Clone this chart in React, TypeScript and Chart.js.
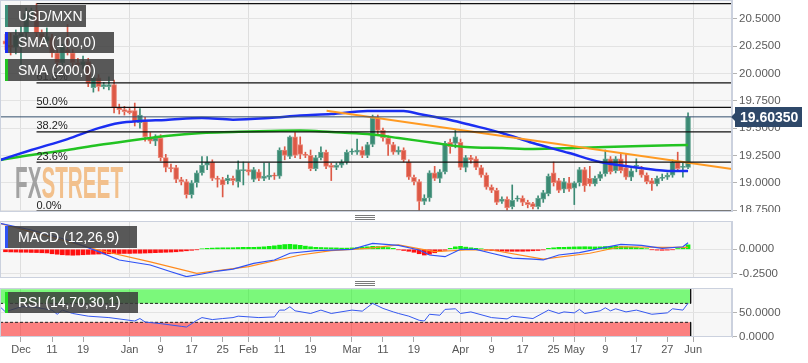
import React, { useEffect, useRef } from 'react';
import { Chart, registerables } from 'chart.js';

Chart.register(...registerables);

const FONT = '"Liberation Sans", Arial, Helvetica, sans-serif';
Chart.defaults.font.family = FONT;

// ---------- x axis (trading-day index, 0 = 3 Dec 2018) ----------
const X_MIN = -4.06;
const X_MAX = 137.5;
const tickIdx = [0, 6, 12, 21, 27, 33, 39, 44, 50, 56, 64, 70, 76, 85, 91, 97, 103, 107, 113, 119, 125, 130];
const tickLabels = ['Dec', '11', '19', 'Jan', '9', '17', '25', 'Feb', '11', '19', 'Mar', '11', '19', 'Apr', '9', '17', '25', 'May', '9', '17', '27', 'Jun'];
const monthIdx = [0, 21, 44, 64, 85, 107, 130];

// ---------- candles (first candle = index -3, 28 Nov 2018) ----------
const FIRST_IDX = -3;
const opens = [20.30, 20.26, 20.24, 20.34, 20.37, 20.54, 20.58, 20.37, 20.30, 20.33, 20.19, 20.10, 20.22, 20.19, 20.10, 20.08, 20.11, 19.87, 19.96, 19.88, 19.88, 19.90, 19.69, 19.67, 19.66, 19.66, 19.55, 19.56, 19.41, 19.38, 19.41, 19.23, 19.14, 19.14, 19.03, 19.01, 18.89, 19.00, 19.09, 19.16, 19.19, 19.04, 19.03, 19.02, 19.04, 19.01, 19.11, 19.12, 19.03, 19.10, 19.04, 19.05, 19.07, 19.06, 19.30, 19.24, 19.42, 19.35, 19.26, 19.25, 19.13, 19.23, 19.28, 19.16, 19.14, 19.16, 19.19, 19.28, 19.28, 19.30, 19.25, 19.35, 19.59, 19.48, 19.41, 19.35, 19.28, 19.30, 19.19, 19.05, 19.01, 18.83, 18.86, 19.09, 19.04, 19.10, 19.37, 19.36, 19.37, 19.14, 19.23, 19.22, 19.14, 19.07, 18.96, 18.93, 18.83, 18.85, 18.78, 18.85, 18.86, 18.82, 18.81, 18.78, 18.85, 18.90, 19.09, 19.02, 18.94, 19.00, 18.95, 19.00, 19.12, 19.04, 18.99, 19.04, 19.08, 19.22, 19.11, 19.22, 19.14, 19.05, 19.15, 19.12, 19.07, 19.02, 18.99, 19.04, 19.05, 19.07, 19.19, 19.14, 19.14];
const highs = [20.36, 20.37, 20.40, 20.43, 20.60, 20.60, 20.64, 20.40, 20.42, 20.36, 20.22, 20.27, 20.45, 20.22, 20.14, 20.16, 20.14, 19.99, 19.99, 19.92, 19.97, 19.94, 19.72, 19.70, 19.68, 19.73, 19.68, 19.60, 19.46, 19.44, 19.44, 19.26, 19.17, 19.16, 19.05, 19.03, 19.02, 19.11, 19.24, 19.24, 19.21, 19.06, 19.05, 19.07, 19.06, 19.20, 19.19, 19.18, 19.14, 19.12, 19.18, 19.18, 19.09, 19.32, 19.33, 19.43, 19.46, 19.42, 19.28, 19.30, 19.25, 19.33, 19.30, 19.18, 19.18, 19.21, 19.30, 19.31, 19.40, 19.33, 19.37, 19.62, 19.62, 19.50, 19.43, 19.37, 19.33, 19.32, 19.21, 19.07, 19.03, 18.89, 19.11, 19.15, 19.12, 19.38, 19.40, 19.48, 19.40, 19.25, 19.25, 19.24, 19.16, 19.09, 18.98, 18.95, 18.87, 18.87, 18.98, 18.88, 18.88, 18.84, 18.82, 18.88, 18.93, 19.08, 19.19, 19.04, 19.04, 19.05, 19.01, 19.14, 19.14, 19.15, 19.06, 19.10, 19.30, 19.24, 19.24, 19.26, 19.26, 19.13, 19.22, 19.15, 19.09, 19.04, 19.06, 19.08, 19.09, 19.21, 19.28, 19.18, 19.64];
const lows = [20.22, 20.17, 20.18, 20.06, 20.30, 20.50, 20.30, 20.25, 20.27, 20.15, 20.06, 20.07, 20.17, 20.05, 20.02, 20.04, 19.88, 19.83, 19.84, 19.86, 19.85, 19.64, 19.63, 19.62, 19.63, 19.52, 19.50, 19.38, 19.36, 19.34, 19.20, 19.10, 19.10, 19.00, 18.98, 18.86, 18.86, 18.96, 19.07, 19.12, 19.02, 18.96, 18.87, 18.99, 18.98, 18.96, 18.98, 19.07, 19.01, 19.02, 19.02, 19.03, 19.03, 19.04, 19.21, 19.22, 19.23, 19.22, 19.23, 19.11, 19.11, 19.21, 19.13, 19.02, 19.12, 19.14, 19.17, 19.26, 19.26, 19.23, 19.23, 19.33, 19.45, 19.38, 19.25, 19.26, 19.26, 19.19, 19.03, 18.98, 18.75, 18.80, 18.83, 19.02, 19.00, 19.08, 19.27, 19.32, 19.12, 19.10, 19.18, 19.12, 19.05, 18.94, 18.91, 18.80, 18.81, 18.75, 18.76, 18.83, 18.79, 18.77, 18.76, 18.76, 18.82, 18.88, 18.97, 18.91, 18.91, 18.92, 18.80, 18.97, 18.92, 18.97, 18.97, 19.02, 19.06, 19.08, 19.09, 19.09, 19.03, 19.02, 19.10, 19.05, 18.99, 18.93, 18.97, 19.02, 19.03, 19.05, 19.11, 19.05, 19.13];
const closes = [20.27, 20.24, 20.35, 20.37, 20.55, 20.58, 20.37, 20.33, 20.34, 20.19, 20.10, 20.24, 20.19, 20.10, 20.08, 20.11, 19.91, 19.96, 19.88, 19.90, 19.90, 19.69, 19.67, 19.65, 19.64, 19.56, 19.62, 19.42, 19.38, 19.41, 19.23, 19.14, 19.13, 19.03, 19.01, 18.89, 19.00, 19.09, 19.16, 19.19, 19.04, 19.03, 18.98, 19.04, 19.02, 19.12, 19.12, 19.10, 19.12, 19.04, 19.06, 19.07, 19.06, 19.30, 19.25, 19.42, 19.25, 19.26, 19.25, 19.13, 19.23, 19.28, 19.15, 19.14, 19.16, 19.19, 19.28, 19.29, 19.30, 19.25, 19.35, 19.59, 19.48, 19.41, 19.35, 19.28, 19.30, 19.21, 19.05, 19.01, 18.83, 18.86, 19.09, 19.04, 19.10, 19.36, 19.33, 19.42, 19.14, 19.23, 19.21, 19.14, 19.07, 18.96, 18.93, 18.82, 18.85, 18.77, 18.84, 18.86, 18.82, 18.80, 18.78, 18.86, 18.91, 19.06, 19.00, 18.93, 19.01, 18.94, 19.00, 19.12, 18.97, 18.99, 19.04, 19.08, 19.22, 19.10, 19.22, 19.11, 19.05, 19.11, 19.16, 19.07, 19.01, 18.99, 19.04, 19.05, 19.07, 19.19, 19.13, 19.15, 19.6035];

// ---------- moving averages (read at sample days) ----------
const sma100Idx = [-4.06, 2, 9, 15, 19, 23, 28, 35, 41, 48, 54, 60, 67, 74, 77, 83, 87, 93, 99, 106, 112, 120, 126, 129];
const sma100Val = [19.208, 19.30, 19.40, 19.50, 19.547, 19.565, 19.575, 19.593, 19.578, 19.593, 19.616, 19.630, 19.657, 19.657, 19.630, 19.575, 19.529, 19.456, 19.364, 19.272, 19.19, 19.135, 19.107, 19.107];
const sma200Idx = [-4.06, 2, 9, 15, 22, 28, 35, 41, 48, 54, 60, 67, 73, 80, 86, 93, 99, 107, 113, 120, 129];
const sma200Val = [19.208, 19.254, 19.30, 19.346, 19.391, 19.428, 19.456, 19.465, 19.474, 19.478, 19.465, 19.446, 19.41, 19.364, 19.327, 19.318, 19.309, 19.318, 19.327, 19.336, 19.346];

// ---------- trend line ----------
const trendIdx = [59.1, 137.5];
const trendVal = [19.66, 19.126];

// ---------- Fibonacci retracement ----------
const FIB_LOW = 18.74;
const FIB_HIGH = 20.64;
const FIB_START = 3;
const fibLevels = [0, 0.236, 0.382, 0.5, 0.618, 1];
const fibLabels = ['0.0%', '23.6%', '38.2%', '50.0%', '61.8%', '100.0%'];

// ---------- MACD (12,26,9) ----------
const macdIdx = [-4.06, 2, 9, 15, 19, 25, 29, 32, 35, 38, 41, 45, 49, 52, 57, 64, 68, 73, 77, 79, 82, 85, 88, 91, 95, 99, 101, 104, 108, 112, 116, 120, 124, 128, 129];
const macdVal = [0.263, 0.195, 0.094, -0.024, -0.108, -0.159, -0.227, -0.277, -0.25, -0.22, -0.20, -0.142, -0.108, -0.04, -0.014, 0.0, 0.06, 0.04, -0.007, -0.058, -0.075, 0.0, 0.0, -0.04, -0.09, -0.10, -0.108, -0.058, -0.034, 0.01, 0.05, 0.04, 0.01, 0.026, 0.067];
const signalIdx = [-4.06, 15, 25, 34, 44, 54, 60, 67, 73, 80, 86, 91, 101, 110, 116, 124, 129];
const signalVal = [0.263, -0.007, -0.128, -0.243, -0.176, -0.058, -0.014, 0.01, 0.044, -0.024, -0.007, -0.007, -0.10, -0.04, 0.026, 0.02, 0.02];
const histVal = [
  -0.025, -0.027, -0.028, -0.03, -0.03, -0.032, -0.033, -0.035, -0.037,
  -0.045, -0.05, -0.055, -0.058, -0.06, -0.058, -0.055, -0.052, -0.05, -0.048,
  -0.046, -0.045, -0.044, -0.043, -0.042, -0.042, -0.04, -0.04, -0.038, -0.036,
  -0.034, -0.032, -0.03, -0.028, -0.025, -0.02, -0.015, -0.01, -0.004,
  0.005, 0.01, 0.012, 0.014, 0.015, 0.015, 0.016, 0.018, 0.02, 0.02, 0.02, 0.022, 0.025,
  0.03, 0.035, 0.042, 0.048, 0.05, 0.046, 0.04, 0.032, 0.025, 0.02,
  0.018, 0.016, 0.015, 0.014, 0.012, 0.012, 0.014, 0.016, 0.02, 0.025, 0.03, 0.028, 0.024, 0.018, 0.01,
  -0.005, -0.012, -0.02, -0.03, -0.045, -0.058, -0.05, -0.035, -0.02, -0.01,
  0.01, 0.025, 0.03, 0.022, 0.015, 0.01, 0.004,
  -0.008, -0.012, -0.015, -0.018, -0.02, -0.02, -0.02, -0.02, -0.018, -0.015, -0.012, -0.006,
  0.01, 0.015, 0.02, 0.02, 0.022, 0.024, 0.025, 0.026, 0.025, 0.024, 0.025, 0.028, 0.03, 0.03, 0.028, 0.025, 0.022, 0.018, 0.012, 0.006,
  -0.004, -0.008, -0.01, -0.008, -0.004,
  0.008, 0.015, 0.045,
];

// ---------- RSI (14,70,30,1) ----------
const rsiIdx = [-4.06, -3, -2, 0, 2, 6, 7, 8, 10, 13, 17, 22, 23, 24, 27, 31, 32, 34, 35, 37, 39, 41, 42, 46, 49, 50, 51, 52, 53, 56, 58, 60, 64, 66, 68, 70, 72, 73, 75, 77, 78, 79, 81, 82, 84, 85, 87, 91, 94, 95, 99, 102, 104, 105, 107, 108, 109, 112, 113, 114, 115, 117, 119, 122, 125, 126, 128, 129];
const rsiVal = [62.9, 52, 55.8, 62.9, 62.9, 55.8, 47, 55.8, 48.7, 43, 40, 32.8, 38, 30.7, 27.2, 21.5, 20, 34.3, 40, 35.8, 38, 40, 43, 40, 41.4, 55.8, 55.8, 62.9, 54.3, 48.7, 55.8, 48.7, 55.8, 53.6, 70, 59.4, 52, 48.7, 43, 34.3, 32.8, 47, 45, 57.3, 58.6, 48.7, 52, 40, 37.2, 43, 38, 55.8, 48.7, 52, 50, 57.3, 48.7, 54.3, 60.7, 54.3, 58.6, 52, 55.8, 47, 50, 58.6, 55.8, 70.2];
const RSI_HIGH = 70;
const RSI_LOW = 30;
const ZONE_END = 129.5;

// ---------- axis ticks ----------
const priceTicks = [18.75, 19, 19.25, 19.5, 19.75, 20, 20.25, 20.5];
const macdTicks = [-0.25, 0];
const rsiTicks = [0, 50];

// ---------- styles ----------
const TEAL = '#3b8a74';
const TEAL_EDGE = '#6aa896';
const RED = '#dd5946';
const RED_EDGE = '#ec8a7c';

const pts = (xs: number[], ys: number[]) => xs.map((x, i) => ({ x, y: ys[i] }));

function xScale(showLabels: boolean) {
  return {
    type: 'linear',
    min: X_MIN,
    max: X_MAX,
    offset: false,
    bounds: 'data',
    afterBuildTicks: (s: any) => {
      s.ticks = tickIdx.map((v) => ({ value: v }));
    },
    afterFit: (s: any) => {
      s.height = showLabels ? 26 : 0;
      s.paddingLeft = 0;
      s.paddingRight = 0;
    },
    ticks: {
      display: showLabels,
      autoSkip: false,
      maxRotation: 0,
      minRotation: 0,
      padding: 1,
      color: '#555',
      font: { size: 11 },
      callback: (v: any) => {
        const k = tickIdx.indexOf(Number(v));
        return k >= 0 ? tickLabels[k] : '';
      },
    },
    grid: {
      offset: false,
      color: (c: any) => (c.tick && monthIdx.includes(c.tick.value) ? '#dedede' : 'rgba(0,0,0,0)'),
      drawTicks: showLabels,
      tickLength: 5,
      tickColor: '#a8a8a8',
    },
    border: { display: false },
  };
}

function yScale(min: number, max: number, ticks: number[]) {
  return {
    type: 'linear',
    position: 'right',
    min,
    max,
    bounds: 'data',
    afterBuildTicks: (s: any) => {
      s.ticks = ticks.map((v) => ({ value: v }));
    },
    afterFit: (s: any) => {
      s.width = 76;
      s.paddingTop = 0;
      s.paddingBottom = 0;
    },
    ticks: {
      color: '#5b5b5b',
      font: { size: 11.5 },
      padding: 2,
      callback: (v: any) => Number(v).toFixed(4),
    },
    grid: { color: '#e3e3e3', tickLength: 5, tickColor: '#b3b3b3', drawTicks: true },
    border: { display: true, color: '#cbd1de' },
  };
}

const framePlugin = {
  id: 'panelFrame',
  beforeDraw(chart: any) {
    const { ctx, chartArea: a } = chart;
    ctx.save();
    ctx.fillStyle = '#f7f7f7';
    ctx.fillRect(a.left, a.top, a.right - a.left, a.bottom - a.top);
    ctx.restore();
  },
  afterDraw(chart: any) {
    const { ctx, chartArea: a } = chart;
    ctx.save();
    ctx.strokeStyle = '#cbd1de';
    ctx.lineWidth = 1;
    ctx.strokeRect(a.left + 0.5, a.top + 0.5, a.right - a.left - 1, a.bottom - a.top - 1);
    ctx.restore();
  },
};

const fibLabelPlugin = {
  id: 'fibLabels',
  afterDatasetsDraw(chart: any) {
    const { ctx, scales } = chart;
    ctx.save();
    ctx.font = `11px ${FONT}`;
    ctx.fillStyle = '#222';
    ctx.textAlign = 'left';
    ctx.textBaseline = 'alphabetic';
    fibLevels.forEach((lvl, i) => {
      const price = FIB_LOW + lvl * (FIB_HIGH - FIB_LOW);
      ctx.fillText(fibLabels[i], scales.x.getPixelForValue(FIB_START), scales.y.getPixelForValue(price) - 2.5);
    });
    ctx.restore();
  },
};

const priceTagPlugin = {
  id: 'priceTag',
  afterDraw(chart: any) {
    const { ctx, chartArea: a, scales } = chart;
    const last = closes[closes.length - 1];
    const py = Math.round(scales.y.getPixelForValue(last));
    const r = a.right;
    ctx.save();
    ctx.fillStyle = '#2e4869';
    ctx.beginPath();
    ctx.moveTo(r - 1, py);
    ctx.lineTo(r + 3, py - 4);
    ctx.lineTo(r + 3, py - 10);
    ctx.lineTo(r + 70, py - 10);
    ctx.lineTo(r + 70, py + 10);
    ctx.lineTo(r + 3, py + 10);
    ctx.lineTo(r + 3, py + 4);
    ctx.closePath();
    ctx.fill();
    ctx.fillStyle = '#ffffff';
    ctx.font = `bold 14px ${FONT}`;
    ctx.textAlign = 'left';
    ctx.textBaseline = 'middle';
    ctx.fillText(last.toFixed(5), r + 8, py + 1);
    ctx.restore();
  },
};

const baseOpts = {
  responsive: false,
  maintainAspectRatio: false,
  animation: false,
  devicePixelRatio: 1,
  events: [],
  layout: { padding: 0 },
  plugins: { legend: { display: false }, tooltip: { enabled: false } },
};

function priceConfig(): any {
  const xs = opens.map((_, i) => FIRST_IDX + i);
  const up = (i: number) => closes[i] >= opens[i];
  const lastClose = closes[closes.length - 1];
  const fibSets = fibLevels.map((lvl) => ({
    type: 'line',
    data: [
      { x: FIB_START, y: FIB_LOW + lvl * (FIB_HIGH - FIB_LOW) },
      { x: X_MAX, y: FIB_LOW + lvl * (FIB_HIGH - FIB_LOW) },
    ],
    borderColor: '#111',
    borderWidth: 1.3,
    pointRadius: 0,
    order: 1,
  }));
  return {
    type: 'line',
    data: {
      datasets: [
        {
          type: 'bar',
          data: xs.map((x, i) => ({ x, y: [lows[i], highs[i]] })),
          backgroundColor: xs.map((_, i) => (up(i) ? TEAL : RED)),
          barThickness: 1,
          maxBarThickness: 1,
          grouped: false,
          order: 20,
        },
        {
          type: 'bar',
          data: xs.map((x, i) => ({ x, y: [opens[i], closes[i]] })),
          backgroundColor: xs.map((_, i) => (up(i) ? TEAL : RED)),
          borderColor: xs.map((_, i) => (up(i) ? TEAL_EDGE : RED_EDGE)),
          borderWidth: 1,
          borderSkipped: false,
          barThickness: 5,
          maxBarThickness: 5,
          grouped: false,
          order: 19,
        },
        {
          type: 'line',
          data: pts(sma200Idx, sma200Val),
          borderColor: '#22c322',
          borderWidth: 2.5,
          pointRadius: 0,
          cubicInterpolationMode: 'monotone',
          order: 4,
        },
        {
          type: 'line',
          data: pts(sma100Idx, sma100Val),
          borderColor: '#1b2ef2',
          borderWidth: 2.5,
          pointRadius: 0,
          cubicInterpolationMode: 'monotone',
          order: 3,
        },
        {
          type: 'line',
          data: pts(trendIdx, trendVal),
          borderColor: '#ff9a22',
          borderWidth: 2,
          pointRadius: 0,
          order: 2,
        },
        ...fibSets,
        {
          type: 'line',
          data: [
            { x: X_MIN, y: lastClose },
            { x: X_MAX, y: lastClose },
          ],
          borderColor: '#34506e',
          borderWidth: 1,
          pointRadius: 0,
          order: 0,
        },
      ],
    },
    options: {
      ...baseOpts,
      scales: { x: xScale(false), y: yScale(18.732, 20.674, priceTicks) },
    },
    plugins: [framePlugin, fibLabelPlugin, priceTagPlugin],
  };
}

function macdConfig(): any {
  const xs = histVal.map((_, i) => FIRST_IDX + i);
  return {
    type: 'line',
    data: {
      datasets: [
        {
          type: 'bar',
          data: xs.map((x, i) => ({ x, y: histVal[i] })),
          backgroundColor: histVal.map((v) => (v >= 0 ? '#10ee10' : '#ff1010')),
          barThickness: 4,
          maxBarThickness: 4,
          grouped: false,
          order: 5,
        },
        {
          type: 'line',
          data: pts(signalIdx, signalVal),
          borderColor: '#ff8a1e',
          borderWidth: 1.2,
          pointRadius: 0,
          order: 2,
        },
        {
          type: 'line',
          data: pts(macdIdx, macdVal),
          borderColor: '#2f52f5',
          borderWidth: 1.2,
          pointRadius: 0,
          order: 1,
        },
      ],
    },
    options: {
      ...baseOpts,
      scales: { x: xScale(false), y: yScale(-0.2905, 0.2864, macdTicks) },
    },
    plugins: [framePlugin],
  };
}

function rsiConfig(): any {
  const zoneLine = (y: number, extra: any) => ({
    type: 'line',
    data: [
      { x: X_MIN, y },
      { x: ZONE_END, y },
    ],
    pointRadius: 0,
    ...extra,
  });
  return {
    type: 'line',
    data: {
      datasets: [
        zoneLine(100, { borderWidth: 0, borderColor: 'rgba(0,0,0,0)', order: 6 }),
        zoneLine(RSI_HIGH, {
          borderWidth: 1,
          borderColor: '#222',
          borderDash: [3, 2],
          fill: '-1',
          backgroundColor: 'rgba(0,250,0,0.5)',
          order: 5,
        }),
        zoneLine(RSI_LOW, { borderWidth: 1, borderColor: '#222', borderDash: [3, 2], order: 5 }),
        zoneLine(0, {
          borderWidth: 0,
          borderColor: 'rgba(0,0,0,0)',
          fill: '-1',
          backgroundColor: 'rgba(255,10,10,0.5)',
          order: 6,
        }),
        {
          type: 'line',
          data: [
            { x: ZONE_END, y: 100 },
            { x: ZONE_END, y: RSI_HIGH },
          ],
          borderColor: '#111',
          borderWidth: 1,
          pointRadius: 0,
          order: 4,
        },
        {
          type: 'line',
          data: [
            { x: ZONE_END, y: RSI_LOW },
            { x: ZONE_END, y: 0 },
          ],
          borderColor: '#111',
          borderWidth: 1,
          pointRadius: 0,
          order: 4,
        },
        {
          type: 'line',
          data: pts(rsiIdx, rsiVal),
          borderColor: '#3558f0',
          borderWidth: 1,
          pointRadius: 0,
          order: 1,
        },
      ],
    },
    options: {
      ...baseOpts,
      scales: { x: xScale(true), y: yScale(-1, 102.5, rsiTicks) },
    },
    plugins: [framePlugin],
  };
}

const Tag = ({ x, y, w, h, color, text }: { x: number; y: number; w: number; h: number; color: string; text: string }) => (
  <div
    style={{
      position: 'absolute',
      left: x,
      top: y,
      width: w,
      height: h,
      background: 'rgba(60,60,60,0.85)',
      color: '#fff',
      font: `14px ${FONT}`,
      lineHeight: `${h}px`,
      paddingLeft: 13,
      boxSizing: 'border-box',
      whiteSpace: 'nowrap',
    }}
  >
    <div style={{ position: 'absolute', left: 0, top: 0, width: 3, height: h, background: color }} />
    {text}
  </div>
);

const Handle = ({ y }: { y: number }) => (
  <div style={{ position: 'absolute', left: 355, top: y, width: 20, height: 5 }}>
    {[0, 2, 4].map((d) => (
      <div key={d} style={{ position: 'absolute', left: 0, top: d, width: 20, height: 1, background: '#7a7a7a' }} />
    ))}
  </div>
);

export default function App() {
  const c1 = useRef<HTMLCanvasElement>(null);
  const c2 = useRef<HTMLCanvasElement>(null);
  const c3 = useRef<HTMLCanvasElement>(null);

  useEffect(() => {
    const charts = [
      new Chart(c1.current as HTMLCanvasElement, priceConfig()),
      new Chart(c2.current as HTMLCanvasElement, macdConfig()),
      new Chart(c3.current as HTMLCanvasElement, rsiConfig()),
    ];
    return () => charts.forEach((c) => c.destroy());
  }, []);

  return (
    <div style={{ position: 'fixed', left: 0, top: 0, width: 808, height: 363, background: '#fff', overflow: 'hidden' }}>
      <canvas ref={c1} width={808} height={212} style={{ position: 'absolute', left: 0, top: 0 }} />
      <canvas ref={c2} width={808} height={57} style={{ position: 'absolute', left: 0, top: 221 }} />
      <canvas ref={c3} width={808} height={75} style={{ position: 'absolute', left: 0, top: 288 }} />
      <div
        style={{
          position: 'absolute',
          left: 15,
          top: 161,
          font: `bold 44px ${FONT}`,
          lineHeight: '44px',
          transform: 'scaleX(0.47)',
          transformOrigin: 'left top',
          whiteSpace: 'nowrap',
          pointerEvents: 'none',
        }}
      >
        <span style={{ color: '#a2a2a2' }}>FX</span>
        <span style={{ color: '#f2c08c' }}>STREET</span>
      </div>
      <Handle y={215} />
      <Handle y={281} />
      <Tag x={5} y={5} w={81} h={22} color="#3d8f7a" text="USD/MXN" />
      <Tag x={5} y={32} w={109} h={21} color="#1b2ef2" text="SMA (100,0)" />
      <Tag x={5} y={59} w={109} h={22} color="#22c322" text="SMA (200,0)" />
      <Tag x={5} y={226} w={132} h={22} color="#2f52f5" text="MACD (12,26,9)" />
      <Tag x={5} y={292} w={133} h={21} color="#22dd22" text="RSI (14,70,30,1)" />
    </div>
  );
}
